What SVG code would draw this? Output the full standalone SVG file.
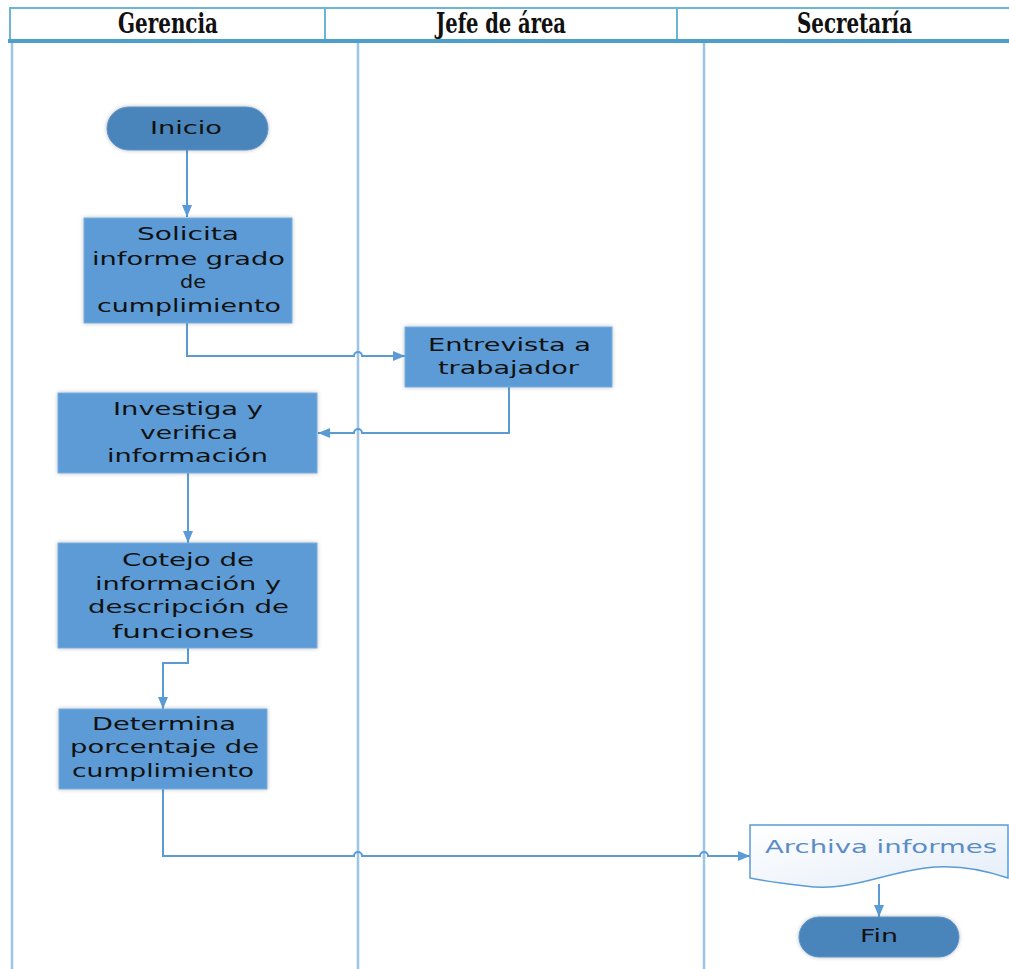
<svg xmlns="http://www.w3.org/2000/svg" width="1009" height="969" viewBox="0 0 1009 969">
  <defs>
    <style>
      .lane { stroke: #9cc3e8; stroke-width: 2.5; fill: none; }
      .hdr { stroke: #6cb5d4; stroke-width: 2; fill: none; }
      .hdr-bottom { stroke: #4d9fcb; stroke-width: 4; fill: none; }
      .title { font-family: "DejaVu Serif Condensed", "DejaVu Serif", serif; font-stretch: condensed; font-weight: bold; font-size: 28px; fill: #111; }
      .proc { fill: #5b9bd5; stroke: #79aee0; stroke-width: 1; filter: url(#soft); }
      .term { fill: #4a84ba; stroke: #5f93c6; stroke-width: 1; filter: url(#soft); }
      .doc { fill: url(#docFill); stroke: #5b9bd5; stroke-width: 1.5; }
      .lbl { font-family: "DejaVu Sans", "Noto Sans", sans-serif; font-size: 17px; fill: #111; }
      .lbl-doc { font-family: "DejaVu Sans", "Noto Sans", sans-serif; font-size: 17px; fill: #5a8cc6; }
      .conn { stroke: #5b9bd5; stroke-width: 2; fill: none; marker-end: url(#arrow); }
    </style>
    <marker id="arrow" viewBox="0 0 12 12" refX="12" refY="6" markerWidth="12" markerHeight="12" markerUnits="userSpaceOnUse" orient="auto">
      <path d="M0,1 L12,6 L0,11 Z" fill="#5b9bd5"/>
    </marker>
    <linearGradient id="docFill" x1="0" y1="0" x2="1" y2="1">
      <stop offset="0" stop-color="#ffffff"/>
      <stop offset="1" stop-color="#e4edf8"/>
    </linearGradient>
    <filter id="soft" x="-10%" y="-15%" width="120%" height="130%">
      <feGaussianBlur in="SourceAlpha" stdDeviation="2"/>
      <feComponentTransfer><feFuncA type="linear" slope="0.25"/></feComponentTransfer>
      <feMerge><feMergeNode/><feMergeNode in="SourceGraphic"/></feMerge>
    </filter>
  </defs>

  <rect width="1009" height="969" fill="#ffffff"/>

  <!-- swimlane frame -->
  <g id="lanes">
    <line class="lane" x1="12" y1="40" x2="12" y2="969"/>
    <line class="lane" x1="358" y1="40" x2="358" y2="969"/>
    <line class="lane" x1="704" y1="40" x2="704" y2="969"/>
    <line class="hdr" x1="9" y1="8" x2="1009" y2="8"/>
    <line class="hdr" x1="10" y1="8" x2="10" y2="41"/>
    <line class="hdr" x1="325" y1="8" x2="325" y2="41"/>
    <line class="hdr" x1="677" y1="8" x2="677" y2="41"/>
    <line class="hdr-bottom" x1="8" y1="41" x2="1009" y2="41"/>
    <text class="title" x="118" y="33" textLength="100" lengthAdjust="spacingAndGlyphs">Gerencia</text>
    <text class="title" x="436" y="33" textLength="130" lengthAdjust="spacingAndGlyphs">Jefe de área</text>
    <text class="title" x="797" y="33" textLength="115" lengthAdjust="spacingAndGlyphs">Secretaría</text>
  </g>

  <!-- connectors -->
  <g id="connectors">
    <path class="conn" d="M187,150 V217"/>
    <path class="conn" d="M187,323 V356 H354 A4,4 0 0 1 362,356 H405"/>
    <path class="conn" d="M509,387 V433 H362 A4,4 0 0 0 354,433 H318"/>
    <path class="conn" d="M188,473 V543"/>
    <path class="conn" d="M188,648 V663 H163 V709"/>
    <path class="conn" d="M163,789 V856 H354 A4,4 0 0 1 362,856 H700 A4,4 0 0 1 708,856 H750"/>
    <path class="conn" d="M879,884 V917"/>
  </g>

  <g id="inicio">
    <rect class="term" x="107" y="107" width="161" height="43" rx="21.5"/>
    <text class="lbl" x="150" y="134" textLength="72" lengthAdjust="spacingAndGlyphs">Inicio</text>
  </g>

  <g id="solicita">
    <rect class="proc" x="84" y="218" width="208" height="105"/>
    <text class="lbl" x="137" y="240" textLength="102" lengthAdjust="spacingAndGlyphs">Solicita</text>
    <text class="lbl" x="92" y="265" textLength="193" lengthAdjust="spacingAndGlyphs">informe grado</text>
    <text class="lbl" x="180" y="288" textLength="26" lengthAdjust="spacingAndGlyphs">de</text>
    <text class="lbl" x="97" y="312" textLength="184" lengthAdjust="spacingAndGlyphs">cumplimiento</text>
  </g>

  <g id="entrevista">
    <rect class="proc" x="405" y="327" width="207" height="60"/>
    <text class="lbl" x="428" y="351" textLength="163" lengthAdjust="spacingAndGlyphs">Entrevista a</text>
    <text class="lbl" x="438" y="374" textLength="141" lengthAdjust="spacingAndGlyphs">trabajador</text>
  </g>

  <g id="investiga">
    <rect class="proc" x="58" y="393" width="259" height="80"/>
    <text class="lbl" x="113" y="415" textLength="150" lengthAdjust="spacingAndGlyphs">Investiga y</text>
    <text class="lbl" x="140" y="439" textLength="98" lengthAdjust="spacingAndGlyphs">verifica</text>
    <text class="lbl" x="107" y="462" textLength="161" lengthAdjust="spacingAndGlyphs">información</text>
  </g>

  <g id="cotejo">
    <rect class="proc" x="58" y="543" width="259" height="105"/>
    <text class="lbl" x="122" y="566" textLength="132" lengthAdjust="spacingAndGlyphs">Cotejo de</text>
    <text class="lbl" x="95" y="590" textLength="186" lengthAdjust="spacingAndGlyphs">información y</text>
    <text class="lbl" x="88" y="613" textLength="201" lengthAdjust="spacingAndGlyphs">descripción de</text>
    <text class="lbl" x="112" y="638" textLength="142" lengthAdjust="spacingAndGlyphs">funciones</text>
  </g>

  <g id="determina">
    <rect class="proc" x="59" y="709" width="208" height="80"/>
    <text class="lbl" x="92" y="730" textLength="144" lengthAdjust="spacingAndGlyphs">Determina</text>
    <text class="lbl" x="70" y="753" textLength="189" lengthAdjust="spacingAndGlyphs">porcentaje de</text>
    <text class="lbl" x="72" y="777" textLength="182" lengthAdjust="spacingAndGlyphs">cumplimiento</text>
  </g>

  <g id="archiva">
    <path class="doc" d="M750,825 H1008 V878 C985,870 955,864 925,868 C880,874 850,892 805,886 C780,883 765,881 750,878 Z"/>
    <text class="lbl-doc" x="765" y="853" textLength="232" lengthAdjust="spacingAndGlyphs">Archiva informes</text>
  </g>

  <g id="fin">
    <rect class="term" x="799" y="917" width="160" height="40" rx="20"/>
    <text class="lbl" x="860" y="942" textLength="38" lengthAdjust="spacingAndGlyphs">Fin</text>
  </g>
</svg>
